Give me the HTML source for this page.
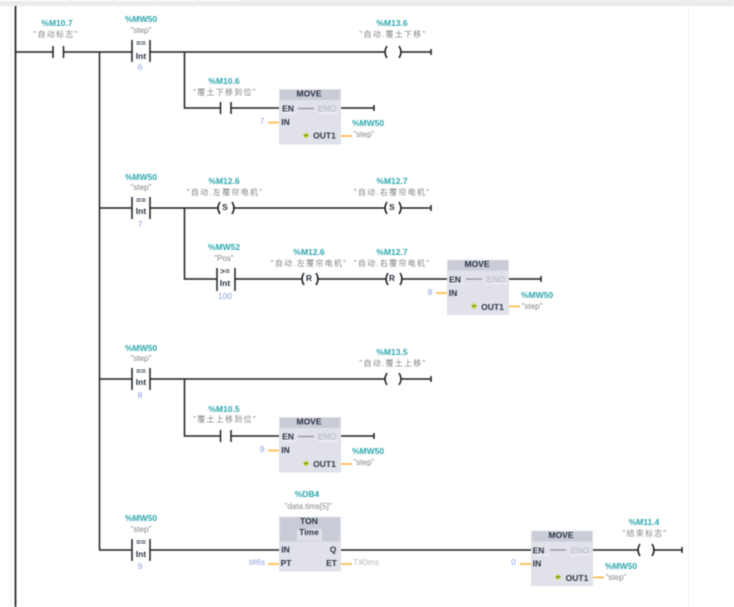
<!DOCTYPE html>
<html><head><meta charset="utf-8"><style>
html,body{margin:0;padding:0;background:#fff;width:734px;height:607px;overflow:hidden}
svg{display:block;filter:blur(.45px)}
text{font-family:"Liberation Sans","Noto Sans CJK SC",sans-serif;text-anchor:middle}
.a{font-size:8.5px;font-weight:bold;fill:#2ca6ae}
.l{font-size:8px;fill:#858585;letter-spacing:1.25px}
.s{font-size:8px;fill:#858585}
.v{font-size:8.5px;fill:#8f9fe6}
.b{font-size:8.5px;font-weight:bold;fill:#2a3444}
.g{font-size:8.5px;fill:#b5b7be}
.w{stroke:#1f1f1f;stroke-width:1.5;fill:none}
.o{stroke:#fdb02e;stroke-width:1.5;fill:none}
</style></head><body>
<svg width="734" height="607" viewBox="0 0 734 607" xmlns="http://www.w3.org/2000/svg">
<defs>
<g id="cmp"><path class="w" d="M132 -11V11M150 -11V11"/></g>
<g id="nc"><path class="w" d="M0 -6V6M10.500 -6V6"/></g>
<g id="coil"><path class="w" d="M3 -6Q-1 0 3 6M15 -6Q19 0 15 6"/></g>
<g id="mv">
<rect x="0" y="0" width="62" height="55.500" fill="#e0e1e9"/>
<rect x="1" y="1" width="60" height="10" fill="#c9cbd6"/>
<path d="M19 19.500H35" stroke="#8f8f8f" stroke-width="1.200"/>
<path d="M2 24H18M39 24H59" stroke="#f6f6f8" stroke-width="1"/>
<path class="o" d="M-11 33.500H0M62 47H73"/>
<path d="M24 46.500L27 43.500L30 46.500L27 49.500Z" fill="#c2cf1e"/>
<path d="M25 46.500H29" stroke="#4d6b2a" stroke-width=".8"/>
</g>
</defs>

<rect x="0" y="0" width="734" height="6" fill="#ebebeb"/>
<path d="M0 .5H27M30 .5H70M73 .5H112M115 .5H155M158 .5H197M200 .5H240" stroke="#fff" stroke-width="1"/>
<path d="M10.500 6V607M688.500 6V607" stroke="#eee" stroke-width="1"/>
<path d="M15.500 6V607" stroke="#222" stroke-width="1.700"/>
<path d="M99.500 52V550" class="w"/>

<!-- rung 1 -->
<path class="w" d="M15 52H53M63 52H132M150 52H385M401 52H431M431 49V55"/>
<use href="#nc" x="53" y="52"/>
<use href="#cmp" y="51"/>
<use href="#coil" x="384" y="52"/>
<text class="a" x="57" y="26">%M10.7</text>
<text class="l" x="56" y="37">"自动标志"</text>
<text class="a" x="141" y="22">%MW50</text>
<text class="s" x="141" y="33">"step"</text>
<text class="b" x="141" y="46">==</text>
<text class="b" x="141" y="59">Int</text>
<text class="v" x="140" y="70">6</text>
<text class="a" x="392" y="26">%M13.6</text>
<text class="l" x="393" y="37">"自动.覆土下移"</text>
<path class="w" d="M184.500 52V108H220M231 108H279M341 108H374M374 105V111"/>
<use href="#nc" x="220.500" y="108"/>
<text class="a" x="224" y="84">%M10.6</text>
<text class="l" x="225" y="95">"覆土下移到位"</text>
<use href="#mv" x="279" y="89"/>
<text class="b" x="309" y="96.500">MOVE</text>
<text class="b" x="288" y="111.500">EN</text><text class="g" x="327" y="111.500">ENO</text>
<text class="b" x="285.500" y="125">IN</text><text class="b" x="324.500" y="138.500">OUT1</text>
<text class="v" x="262" y="124">7</text>
<text class="a" x="368" y="126">%MW50</text>
<text class="s" x="364" y="137">"step"</text>

<!-- rung 2 -->
<path class="w" d="M99 208H132M150 208H218M233 208H385M401 208H431M431 205V211"/>
<use href="#cmp" y="208"/>
<text class="a" x="141" y="180">%MW50</text>
<text class="s" x="141" y="190">"step"</text>
<text class="b" x="141" y="203">==</text>
<text class="b" x="141" y="214">Int</text>
<text class="v" x="140" y="227">7</text>
<use href="#coil" x="217" y="208"/>
<text class="b" x="225" y="210">S</text>
<text class="a" x="224" y="184">%M12.6</text>
<text class="l" x="225" y="195">"自动.左覆帘电机"</text>
<use href="#coil" x="384" y="208"/>
<text class="b" x="392" y="210">S</text>
<text class="a" x="392" y="184">%M12.7</text>
<text class="l" x="392" y="195">"自动.右覆帘电机"</text>
<path class="w" d="M184.500 208V279H217M235 279H302M317 279H386M401 279H447M509 279H541M541 276V282"/>
<path class="w" d="M217 268V291M235 268V291"/>
<text class="a" x="224" y="250">%MW52</text>
<text class="s" x="224" y="261">"Pos"</text>
<text class="b" x="225" y="274">&gt;=</text>
<text class="b" x="225" y="286">Int</text>
<text class="v" x="225" y="299">100</text>
<use href="#coil" x="301" y="279"/>
<text class="b" x="309" y="281">R</text>
<text class="a" x="309" y="255">%M12.6</text>
<text class="l" x="309" y="266">"自动.左覆帘电机"</text>
<use href="#coil" x="385" y="279"/>
<text class="b" x="392" y="281">R</text>
<text class="a" x="392" y="255">%M12.7</text>
<text class="l" x="392" y="266">"自动.右覆帘电机"</text>
<use href="#mv" x="447" y="259.500"/>
<text class="b" x="477" y="267">MOVE</text>
<text class="b" x="455" y="282.500">EN</text><text class="g" x="496" y="282.500">ENO</text>
<text class="b" x="453" y="296">IN</text><text class="b" x="492.500" y="310">OUT1</text>
<text class="v" x="430" y="295">8</text>
<text class="a" x="537" y="298">%MW50</text>
<text class="s" x="532" y="309">"step"</text>

<!-- rung 3 -->
<path class="w" d="M99 379H132M150 379H385M401 379H431M431 376V382"/>
<use href="#cmp" y="379"/>
<text class="a" x="141" y="351">%MW50</text>
<text class="s" x="141" y="361">"step"</text>
<text class="b" x="141" y="374">==</text>
<text class="b" x="141" y="385">Int</text>
<text class="v" x="140" y="398">8</text>
<use href="#coil" x="384" y="379"/>
<text class="a" x="392" y="355">%M13.5</text>
<text class="l" x="393" y="366">"自动.覆土上移"</text>
<path class="w" d="M184.500 379V436H220M231 436H279M341 436H374M374 433V439"/>
<use href="#nc" x="220.500" y="436"/>
<text class="a" x="224" y="412">%M10.5</text>
<text class="l" x="225" y="422">"覆土上移到位"</text>
<use href="#mv" x="279" y="417"/>
<text class="b" x="309" y="424.500">MOVE</text>
<text class="b" x="288" y="439.500">EN</text><text class="g" x="327" y="439.500">ENO</text>
<text class="b" x="285.500" y="453">IN</text><text class="b" x="324.500" y="467">OUT1</text>
<text class="v" x="262" y="452">9</text>
<text class="a" x="368" y="454">%MW50</text>
<text class="s" x="364" y="465">"step"</text>

<!-- rung 4 -->
<path class="w" d="M99 550H132M150 550H279M341 550H532M592 550H638M653 550H682M682 547V553"/>
<use href="#cmp" y="550"/>
<text class="a" x="141" y="521">%MW50</text>
<text class="s" x="141" y="532">"step"</text>
<text class="b" x="141" y="545">==</text>
<text class="b" x="141" y="557">Int</text>
<text class="v" x="140" y="569">9</text>
<rect x="279" y="516.500" width="62" height="55" fill="#e0e1e9"/>
<rect x="280" y="517.500" width="60" height="24" fill="#c9cbd6"/>
<rect x="297" y="529" width="25" height="12" fill="#dfe0e8"/>
<text class="b" x="309" y="524" font-size="9">TON</text>
<text class="b" x="309" y="535">Time</text>
<text class="b" x="285.500" y="552.500">IN</text><text class="b" x="286" y="566">PT</text>
<text class="b" x="333" y="552.500">Q</text><text class="b" x="331.500" y="566">ET</text>
<path class="o" d="M268 564H279M341 564H352"/>
<text class="v" x="257" y="565" font-size="7.500">t#6s</text>
<text class="g" x="366" y="565">T#0ms</text>
<text class="a" x="307" y="497">%DB4</text>
<text class="s" x="308" y="509">"data.tims[5]"</text>
<use href="#mv" x="531" y="530.500"/>
<text class="b" x="561" y="538">MOVE</text>
<text class="b" x="538.500" y="553.500">EN</text><text class="g" x="580" y="553.500">ENO</text>
<text class="b" x="537" y="566.500">IN</text><text class="b" x="577" y="581">OUT1</text>
<text class="v" x="513.500" y="565">0</text>
<text class="a" x="621" y="569">%MW50</text>
<text class="s" x="616" y="580">"step"</text>
<use href="#coil" x="637" y="550"/>
<text class="a" x="644" y="525">%M11.4</text>
<text class="l" x="645" y="536">"结束标志"</text>
</svg>
</body></html>
